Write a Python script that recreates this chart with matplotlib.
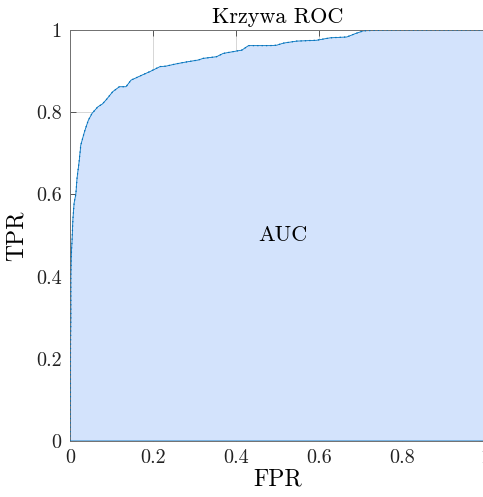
import matplotlib
matplotlib.use("Agg")
import matplotlib.pyplot as plt
import numpy as np

plt.rcParams['font.family'] = ['cmr10', 'DejaVu Serif']
plt.rcParams['mathtext.fontset'] = 'cm'
plt.rcParams['axes.formatter.use_mathtext'] = True

# ROC curve points (false positive rate, true positive rate)
fpr = [0.0, 0.001, 0.001, 0.002, 0.002, 0.003, 0.005, 0.007, 0.010, 0.014,
       0.017, 0.022, 0.026, 0.035, 0.044, 0.053, 0.067, 0.078, 0.087, 0.103,
       0.119, 0.135, 0.147, 0.160, 0.175, 0.193, 0.217, 0.231, 0.253, 0.273,
       0.309, 0.321, 0.353, 0.369, 0.402, 0.414, 0.430, 0.482, 0.498, 0.514,
       0.546, 0.594, 0.627, 0.667, 0.687, 0.707, 0.731, 0.760, 1.0]
tpr = [0.0, 0.10, 0.20, 0.30, 0.40, 0.45, 0.49, 0.54, 0.58, 0.60,
       0.64, 0.68, 0.72, 0.753, 0.78, 0.797, 0.813, 0.82, 0.83, 0.850,
       0.862, 0.862, 0.878, 0.884, 0.891, 0.899, 0.911, 0.912, 0.917, 0.921,
       0.927, 0.931, 0.935, 0.943, 0.949, 0.951, 0.962, 0.962, 0.963, 0.968,
       0.973, 0.975, 0.981, 0.983, 0.991, 0.998, 0.999, 1.0, 1.0]

ticks = [0, 0.2, 0.4, 0.6, 0.8, 1]
tick_labels = ['0', '0.2', '0.4', '0.6', '0.8', '1']

line_col = '#0072BD'
fill_col = '#d3e3fc'

fig = plt.figure(figsize=(4.83, 4.97), dpi=100)
ax = fig.add_axes([70 / 483, 56 / 497, 415 / 483, 411 / 497])

ax.grid(True, color='#d0d0d0', linewidth=0.6, zorder=0)
ax.set_axisbelow(True)

# area under the curve, with its outline
x = np.array(fpr)
y = np.array(tpr)
px = np.concatenate([x, [1.0, 0.0]])
py = np.concatenate([y, [0.0, 0.0]])
ax.fill(px, py, facecolor=fill_col, edgecolor=line_col, linewidth=0.6, zorder=2)
ax.plot(x, y, color=line_col, linewidth=0.9, linestyle=(0, (1, 2.5)), zorder=3)

ax.text(0.453, 0.5, 'AUC', fontsize=16, ha='left', va='center', zorder=4)

ax.set_xlim(0, 1)
ax.set_ylim(0, 1)
ax.set_xticks(ticks)
ax.set_xticklabels(tick_labels)
ax.set_yticks(ticks)
ax.set_yticklabels(tick_labels)
ax.tick_params(direction='in', length=4, width=0.6, colors='#404040',
               labelcolor='#222222', labelsize=14.5, top=True, right=True, pad=6)
for s in ax.spines.values():
    s.set_color('#707070')
    s.set_linewidth(0.7)

ax.set_xlabel('FPR', fontsize=17, labelpad=1)
ax.set_ylabel('TPR', fontsize=17, labelpad=6)
ax.set_title('Krzywa ROC', fontsize=16, pad=5)

fig.savefig('out.png', dpi=100)
